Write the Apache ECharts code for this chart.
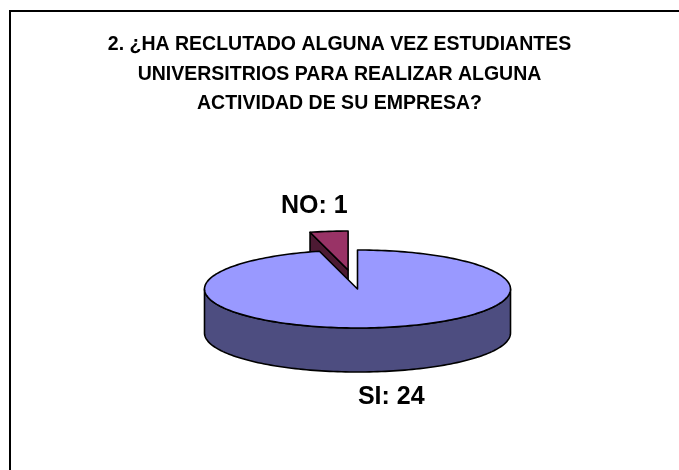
<!DOCTYPE html>
<html>
<head>
<meta charset="utf-8">
<script src="https://cdn.jsdelivr.net/npm/echarts@6/dist/echarts.min.js"></script>
<style>html,body{margin:0;padding:0;background:#fff}#c{width:679px;height:470px}</style>
</head>
<body>
<div id="c"></div>
<script>
const titleLines = ['2. ¿HA RECLUTADO ALGUNA VEZ ESTUDIANTES', 'UNIVERSITRIOS PARA REALIZAR ALGUNA', 'ACTIVIDAD DE SU EMPRESA?'];
const categories = ['SI', 'NO'];
const values = [24, 1];

const topColors = {SI: '#9999FF', NO: '#993366'};
const sideColors = {SI: '#4D4D80', NO: '#4D1A33'};
const explode = {SI: 0, NO: 0.49};

const CX = 357.5, CY = 289, RX = 153, RY = 39, DEPTH = 44;
const total = values.reduce((a, b) => a + b, 0);

function pt(cx, cy, t, dy) { return [cx + RX * Math.sin(t), cy - RY * Math.cos(t) + (dy || 0)]; }
function arcPts(cx, cy, t1, t2, dy) {
  const n = Math.max(2, Math.ceil((t2 - t1) / (Math.PI / 120)));
  const out = [];
  for (let i = 0; i <= n; i++) out.push(pt(cx, cy, t1 + (t2 - t1) * i / n, dy));
  return out;
}

function renderItem(params, api) {
  const i = params.dataIndex;
  const name = categories[i];
  let before = 0;
  for (let k = 0; k < i; k++) before += values[k];
  const t1 = before / total * Math.PI * 2;
  const t2 = (before + values[i]) / total * Math.PI * 2;
  const mid = (t1 + t2) / 2;
  const e = explode[name] || 0;
  const cx = CX + e * RX * Math.sin(mid);
  const cy = CY - e * RY * Math.cos(mid);
  const base = Math.round((1 - Math.cos(mid)) * 10) * 5;
  const stroke = {stroke: '#000', lineWidth: 1.6, lineJoin: 'round'};
  const children = [];
  // outer wall
  const lo = Math.max(t1, Math.PI / 2), hi = Math.min(t2, Math.PI * 1.5);
  if (lo < hi) {
    const pts = arcPts(cx, cy, lo, hi, 0).concat(arcPts(cx, cy, lo, hi, DEPTH).reverse());
    children.push({type: 'polygon', z2: base + 1, shape: {points: pts}, style: Object.assign({fill: sideColors[name]}, stroke)});
  }
  // radial faces
  [[t1, t1 - Math.PI / 2], [t2, t2 + Math.PI / 2]].forEach(([t, phi]) => {
    if (Math.cos(phi) < -1e-6) {
      const p = pt(cx, cy, t, 0), q = pt(cx, cy, t, DEPTH);
      children.push({type: 'polygon', z2: base + 2, shape: {points: [[cx, cy], p, q, [cx, cy + DEPTH]]}, style: Object.assign({fill: sideColors[name]}, stroke)});
    }
  });
  // top face
  const topPts = [[cx, cy]].concat(arcPts(cx, cy, t1, t2, 0));
  children.push({type: 'polygon', z2: base + 3, shape: {points: topPts}, style: Object.assign({fill: topColors[name]}, stroke)});
  // label
  const c = Math.cos(mid);
  const lx = cx + 1.76 * RX * Math.sin(mid);
  const ly = cy - 1.65 * RY * c + (c < 0 ? DEPTH : 0);
  children.push({type: 'text', z2: 200, x: lx, y: ly, style: {text: name + ': ' + values[i], fill: '#000', font: 'bold 25px "Liberation Sans", Arial, sans-serif', align: 'center', verticalAlign: 'middle'}});
  return {type: 'group', children: children};
}

const chart = echarts.init(document.getElementById('c'), null, {renderer: 'canvas'});
chart.setOption({
  backgroundColor: '#ffffff',
  animation: false,
  title: {
    text: titleLines.join('\n'),
    left: 'center',
    top: 25,
    textStyle: {fontFamily: '"Liberation Sans", Arial, sans-serif', fontWeight: 'bold', fontSize: 19.5, lineHeight: 29.5, color: '#000'}
  },
  graphic: [{type: 'rect', silent: true, shape: {x: 10, y: 11, width: 720, height: 520}, style: {fill: 'none', stroke: '#000', lineWidth: 2}}],
  series: [{
    type: 'custom',
    coordinateSystem: 'none',
    renderItem: renderItem,
    data: categories.map((n, i) => ({name: n, value: values[i]}))
  }]
});
</script>
</body>
</html>
